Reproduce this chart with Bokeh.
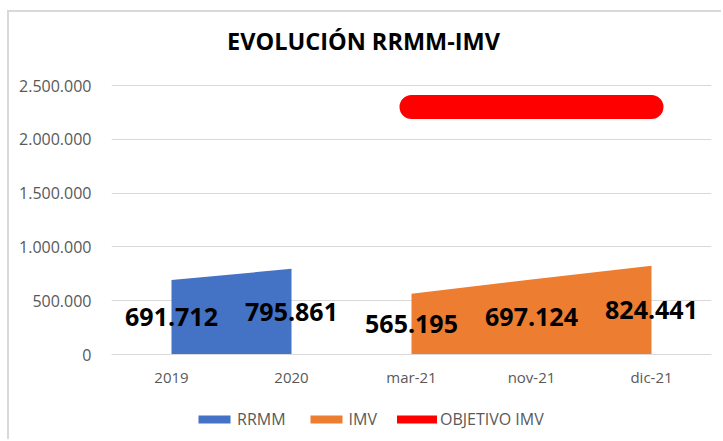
from bokeh.plotting import figure
from bokeh.models import (ColumnDataSource, Range1d, Legend, LegendItem, FixedTicker,
                          LinearAxis, Label)
from bokeh.core.properties import value
from bokeh.embed import file_html
from bokeh.resources import INLINE

categories = ["2019", "2020", "mar-21", "nov-21", "dic-21"]
rrmm = [691712, 795861, None, None, None]
imv = [None, None, 565195, 697124, 824441]
objetivo = [None, None, 2300000, 2300000, 2300000]
y_ticks = [0, 500000, 1000000, 1500000, 2000000, 2500000]
title_text = "EVOLUCIÓN RRMM-IMV"

BLUE = "#4472C4"
ORANGE = "#ED7D31"
RED = "#FF0000"
GRAY_TXT = "#595959"
GRID = "#D9D9D9"

# layout (pixels)
W, H = 714, 429
ABOVE_PX = 73           # room above the top tick (title)
VALUE_PX = 269          # pixels from 0 to the top tick
BELOW_PX = H - ABOVE_PX - VALUE_PX  # room under the zero line (axis labels, legend)
FRAME_W = 600
y_top = y_ticks[-1]
per_px = y_top / VALUE_PX
y_range_top = y_top + ABOVE_PX * per_px
y_range_bottom = -BELOW_PX * per_px
n = len(categories)


def fmt(v):
    return f"{v:,.0f}".replace(",", ".")


def pts(vals):
    xs = [i for i, v in enumerate(vals) if v is not None]
    ys = [vals[i] for i in xs]
    return xs, ys


p = figure(width=W, height=H, output_backend="svg", toolbar_location=None,
           x_range=Range1d(-0.5, n - 0.5),
           y_range=Range1d(y_range_bottom, y_range_top),
           x_axis_location=None,
           min_border_left=102, min_border_right=W - 102 - FRAME_W,
           min_border_top=0, min_border_bottom=0)
p.outline_line_color = None
p.background_fill_color = "white"
p.border_fill_color = "white"
p.styles = {"margin-left": "7px", "margin-top": "10px",
            "border-left": "2px solid #D9D9D9", "border-top": "2px solid #D9D9D9"}

# title (inside the frame, above the top tick)
title_x = -0.5 + 252 / FRAME_W * n
title_y = y_top + 45 * per_px
p.add_layout(Label(x=title_x, y=title_y, text=title_text, text_font="Open Sans",
                   text_font_style="bold", text_font_size="23.5px", text_color="black",
                   text_align="center", text_baseline="middle"))

# areas
rx, ry = pts(rrmm)
ix, iy = pts(imv)
ox, oy = pts(objetivo)
r_rrmm = p.varea(x=rx, y1=[0] * len(rx), y2=ry, fill_color=BLUE)
r_imv = p.varea(x=ix, y1=[0] * len(ix), y2=iy, fill_color=ORANGE)
p.line(x=ox, y=oy, line_color=RED, line_width=24, line_cap="round")
# thinner twin of the objective line, hidden under it, used for the legend key
r_obj_leg = p.line(x=ox, y=oy, line_color=RED, line_width=8, line_cap="round")

# data labels
lab_x = rx + ix
lab_v = ry + iy
src = ColumnDataSource(dict(x=lab_x, y=[v / 2 for v in lab_v], t=[fmt(v) for v in lab_v]))
p.text(x="x", y="y", text="t", source=src, text_font=value("Open Sans"),
       text_font_style="bold", text_font_size="25px", text_color="black",
       text_align="center", text_baseline="middle")

# x axis drawn on the zero line
xaxis = LinearAxis(fixed_location=0, ticker=FixedTicker(ticks=list(range(n))))
xaxis.major_label_overrides = {i: c for i, c in enumerate(categories)}
xaxis.axis_line_color = GRID
xaxis.major_tick_line_color = None
xaxis.minor_tick_line_color = None
xaxis.major_label_standoff = 6
xaxis.major_label_text_font = "Open Sans"
xaxis.major_label_text_font_size = "15px"
xaxis.major_label_text_color = GRAY_TXT
p.add_layout(xaxis, "below")

p.yaxis.ticker = FixedTicker(ticks=y_ticks)
p.yaxis.major_label_overrides = {t: fmt(t) for t in y_ticks}
p.yaxis.axis_line_color = None
p.yaxis.major_tick_line_color = None
p.yaxis.minor_tick_line_color = None
p.yaxis.major_label_standoff = 14
p.yaxis.major_label_text_font = "Open Sans"
p.yaxis.major_label_text_font_size = "16px"
p.yaxis.major_label_text_color = GRAY_TXT

p.xgrid.grid_line_color = None
p.ygrid.grid_line_color = GRID
p.ygrid.ticker = FixedTicker(ticks=y_ticks)

legend = Legend(items=[LegendItem(label="RRMM", renderers=[r_rrmm]),
                       LegendItem(label="IMV", renderers=[r_imv]),
                       LegendItem(label="OBJETIVO IMV", renderers=[r_obj_leg])],
                location=(83, 11), orientation="horizontal",
                glyph_width=40, glyph_height=10, label_height=16,
                label_standoff=3, spacing=20, padding=0, margin=0,
                border_line_color=None, background_fill_alpha=0,
                label_text_font="Open Sans", label_text_font_size="16px",
                label_text_color=GRAY_TXT)
p.add_layout(legend, "center")

open("out.html", "w").write(file_html(p, INLINE))
